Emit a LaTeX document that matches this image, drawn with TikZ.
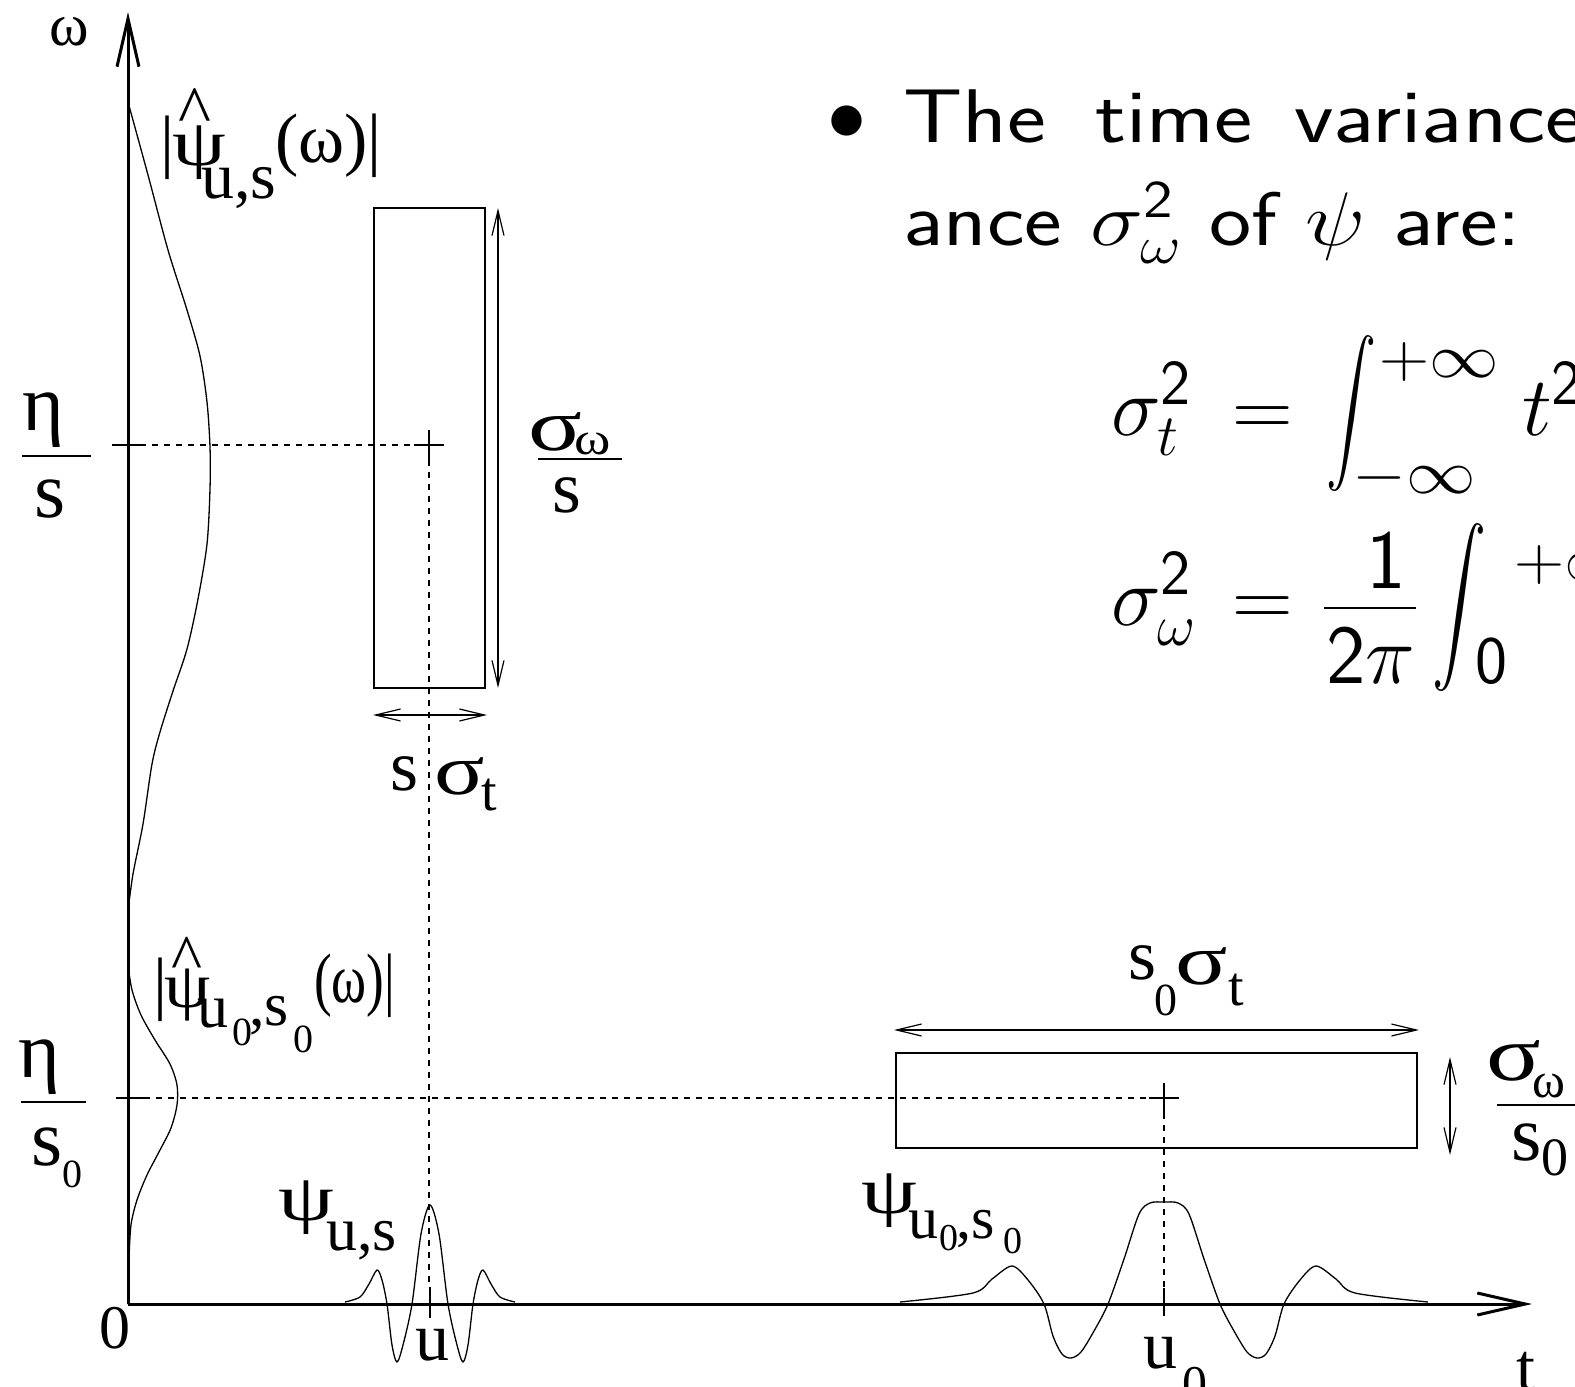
\RequirePackage{fix-cm}
\documentclass[tikz,border=0pt]{standalone}
\usepackage{graphicx}
\usepackage{fontspec}
\newfontfamily\tms{Liberation Serif}
\usetikzlibrary{arrows.meta}
\newcommand\setfs[1]{\fontsize{#1}{#1}\selectfont}
\newcommand\wideg[2]{\scalebox{#1}[1]{#2}}
\newcommand\suptwo{\hbox{\setfs{64}\sffamily 2}}
\begin{document}
\begin{tikzpicture}[x=1pt,y=-1pt,
  axis/.style={line width=3pt},
  thinline/.style={line width=1.3pt},
  barline/.style={line width=2pt},
  dim/.style={line width=1.2pt,{Straight Barb[length=25pt,width=12pt]}-{Straight Barb[length=25pt,width=12pt]}},
  dashline/.style={line width=1.3pt,dash pattern=on 6pt off 6pt},
  lab/.style={font=\tms,inner sep=0pt,anchor=base},
  labw/.style={font=\tms,inner sep=0pt,anchor=base west},
  slide/.style={font=\sffamily,inner sep=0pt,anchor=base west},
  slidec/.style={font=\sffamily,inner sep=0pt,anchor=base}]
\useasboundingbox (0,0) rectangle (1575,1387);
\clip (0,0) rectangle (1575,1387);
% axes
\coordinate (O) at (128,1304);
\coordinate (ytop) at (128,12);
\coordinate (xtip) at (1532,1304);
\draw[axis,-{Straight Barb[length=48pt,width=22pt]}] (O) -- (ytop);
\draw[axis,-{Straight Barb[length=48pt,width=22pt]}] (O) -- (xtip);
% ticks
\draw[line width=2.5pt] (112,445) -- (140,445);
\draw[line width=2.5pt] (116,1098) -- (144,1098);
\draw[barline] (430,1287) -- (430,1318);
\draw[barline] (1164,1288) -- (1164,1316);
% centres
\coordinate (c1) at (429,445);
\coordinate (c2) at (1164,1098);
\draw[barline] (414,445) -- (444,445) (429,430) -- (429,460);
\draw[barline] (1149,1098) -- (1179,1098) (1164,1083) -- (1164,1113);
% dashed
\draw[dashline] (140,445) -- (c1);
\draw[dashline] (429,460) -- (429,1287);
\draw[dashline] (144,1098) -- (1149,1098);
\draw[dashline] (1164,1113) -- (1164,1288);
% boxes
\draw[thinline] (374,208) rectangle (485,688);
\draw[thinline] (896,1053) rectangle (1417,1148);
% dimension arrows
\draw[dim] (498,208) -- (498,688);
\draw[dim] (373,715) -- (487,715);
\draw[dim] (894,1030) -- (1419,1030);
\draw[dim] (1450,1057) -- (1450,1155);
% spectra
\draw[thinline] plot[smooth,tension=0.5] coordinates {(128,102) (148,175) (168,250) (187,310) (200,356) (207,402) (210,447) (210,489) (207,544) (198,599) (187,649) (173,691) (160,732) (152,764) (143,824) (133,874) (128,911)};
\draw[thinline] plot[smooth,tension=0.5] coordinates {(128,965) (132,990) (141,1015) (155,1040) (170,1064) (177,1085) (177,1105) (171,1128) (160,1150) (147,1175) (137,1200) (131,1225) (129,1260) (128,1304)};
% small wavelet
\draw[thinline] plot[smooth,tension=0.5] coordinates {(345,1302) (360,1297) (369,1284) (377,1270) (382,1280) (387,1304) (392,1345) (397,1362) (403,1345) (412,1304) (421,1234) (430,1205) (439,1234) (448,1304) (457,1345) (463,1362) (468,1345) (473,1304) (478,1280) (483,1270) (491,1284) (500,1297) (515,1302)};
% large wavelet
\draw[thinline] plot[smooth,tension=0.5] coordinates {(900,1302) (973,1293) (992,1279) (1012,1266) (1028,1280) (1044,1304) (1053,1336) (1062,1354) (1071,1358) (1081,1352) (1094,1331) (1108,1304) (1124,1259) (1139,1214) (1150,1203) (1164,1202) (1178,1203) (1189,1214) (1204,1259) (1220,1304) (1234,1331) (1247,1352) (1257,1358) (1266,1354) (1275,1336) (1284,1304) (1300,1280) (1316,1266) (1336,1279) (1355,1293) (1428,1302)};
% labels: omega axis
\node[lab] (w) at (69,45) {\setfs{60}ω};
% |psi hat u,s (omega)|
\node[labw] (a1) at (160,164) {\setfs{70}|};
\node[labw] (a2) at (172,165) {\setfs{66}\wideg{1.3}{ψ}};
\node[lab] (a3) at (195,134) {\setfs{70}\textasciicircum};
\node[labw] (a4) at (201,198) {\setfs{66}u,s};
\node[labw] (a5) at (275,162) {\setfs{70}(ω)|};
% |psi hat u0,s0 (omega)|
\node[labw] (b1) at (153,1006) {\setfs{70}|};
\node[labw] (b2) at (164,1007) {\setfs{64}\wideg{1.15}{ψ}};
\node[lab] (b3) at (187,980) {\setfs{66}\textasciicircum};
\node[labw] (b4) at (197,1027) {\setfs{62}u};
\node[labw] (b5) at (232,1045) {\setfs{40}0};
\node[labw] (b6) at (249,1025) {\setfs{62},s};
\node[labw] (b7) at (293,1052) {\setfs{40}0};
\node[labw] (b8) at (314,1002) {\setfs{70}\wideg{0.76}{(ω)|}};
% eta/s
\node[lab] (e1) at (43,430) {\setfs{80}η};
\draw[barline] (22,456) -- (91,456);
\node[lab] (e2) at (50,517) {\setfs{80}s};
\node[lab] (e3) at (39,1077) {\setfs{80}η};
\draw[barline] (21,1102) -- (86,1102);
\node[labw] (e4) at (31,1165) {\setfs{80}s};
\node[labw] (e5) at (62,1187) {\setfs{40}0};
% sigma_omega / s
\node[labw] (s1) at (528,450) {\setfs{74}\wideg{1.35}{σ}};
\node[labw] (s2) at (574,454) {\setfs{46}\wideg{1.2}{ω}};
\draw[barline] (538,459) -- (622,459);
\node[lab] (s3) at (567,512) {\setfs{74}s};
\node[labw] (s4) at (1486,1080) {\setfs{78}\wideg{1.3}{σ}};
\node[labw] (s5) at (1532,1097) {\setfs{50}ω};
\draw[barline] (1497,1105) -- (1580,1105);
\node[labw] (s6) at (1511,1160) {\setfs{78}s};
\node[labw] (s7) at (1541,1175) {\setfs{54}0};
% s sigma_t
\node[labw] (l1) at (390,790) {\setfs{72}s};
\node[labw] (l2) at (434,794) {\setfs{72}\wideg{1.3}{σ}};
\node[labw] (l3) at (481,810) {\setfs{56}t};
\node[labw] (m1) at (1128,979) {\setfs{72}s};
\node[labw] (m2) at (1154,1015) {\setfs{46}0};
\node[labw] (m3) at (1175,984) {\setfs{72}\wideg{1.35}{σ}};
\node[labw] (m4) at (1228,1005) {\setfs{56}t};
% axis labels
\node[lab] (z0) at (115,1348) {\setfs{62}0};
\node[lab] (u1) at (432,1360) {\setfs{68}u};
\node[labw] (u2) at (1143,1368) {\setfs{68}u};
\node[labw] (u3) at (1182,1400) {\setfs{50}0};
\node[labw] (tt) at (1516,1390) {\setfs{68}t};
% psi u,s
\node[labw] (p1) at (278,1220) {\setfs{66}\wideg{1.35}{ψ}};
\node[labw] (p2) at (326,1250) {\setfs{62}u,s};
\node[labw] (q1) at (861,1213) {\setfs{66}\wideg{1.35}{ψ}};
\node[labw] (q2) at (908,1238) {\setfs{60}u};
\node[labw] (q3) at (939,1250) {\setfs{38}0};
\node[labw] (q4) at (956,1238) {\setfs{60},s};
\node[labw] (q5) at (1003,1253) {\setfs{38}0};
% slide text
\node[inner sep=0pt] (bul) at (847,123) {\setfs{78}$\bullet$};
\node[slide] (t1) at (903,142) {\setfs{76}\wideg{1.22}{The}};
\node[slide] (t1b) at (1095,142) {\setfs{76}\wideg{1.2}{time}};
\node[slide] (t1c) at (1294,142) {\setfs{76}\wideg{1.2}{variance}};
\node[slide] (t2) at (903,245) {\setfs{76}\wideg{1.18}{ance $\sigma_\omega^{\mathsf{2}}$ of $\psi$ are:}};
% equations
\node[slide] (eq1a) at (1111,435) {\setfs{84}$\sigma_t^{\suptwo}$};
\node[slidec] (eq1b) at (1263,436) {\setfs{84}$=$};
\node[inner sep=0pt] (eq1c) at (1351,414) {\resizebox*{50pt}{156pt}{$\displaystyle\int$}};
\node[slide] (eq1d) at (1379,377) {\setfs{62}\wideg{1.12}{$+\infty$}};
\node[slide] (eq1e) at (1352,493) {\setfs{62}\wideg{1.12}{$-\infty$}};
\node[slide] (eq1f) at (1522,435) {\setfs{84}$t^{\suptwo}$};
\node[slide] (eq2a) at (1111,625) {\setfs{84}$\sigma_\omega^{\suptwo}$};
\node[slidec] (eq2b) at (1263,626) {\setfs{84}$=$};
\node[slidec] (eq2c) at (1386,588) {\setfs{84}$\mathsf{1}$};
\draw[line width=2.5pt] (1324,608) -- (1416,608);
\node[slidec] (eq2d) at (1371,683) {\setfs{84}$\mathsf{2}\pi$};
\node[inner sep=0pt] (eq2e) at (1459,608) {\resizebox*{54pt}{168pt}{$\displaystyle\int$}};
\node[slide] (eq2f) at (1475,683) {\setfs{68}$\mathsf{0}$};
\node[slide] (eq2g) at (1514,580) {\setfs{62}\wideg{1.12}{$+\infty$}};
\end{tikzpicture}
\end{document}
